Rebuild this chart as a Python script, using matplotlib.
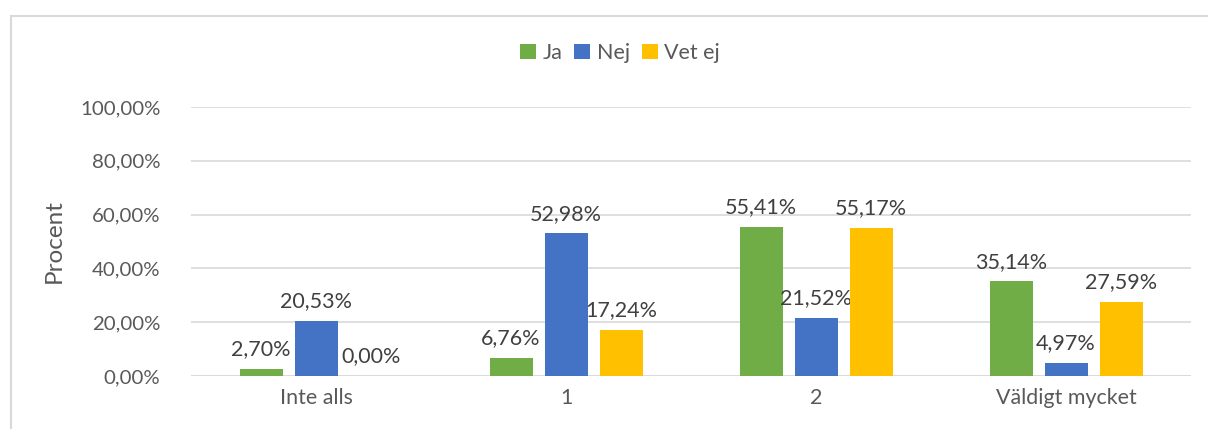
import numpy as np
import matplotlib.pyplot as plt
from matplotlib.patches import Rectangle

categories = ['Inte alls', '1', '2', 'Väldigt mycket']
ja = [2.70, 6.76, 55.41, 35.14]
nej = [20.53, 52.98, 21.52, 4.97]
vet_ej = [0.00, 17.24, 55.17, 27.59]
series_names = ['Ja', 'Nej', 'Vet ej']
colors = ['#70AD47', '#4472C4', '#FFC000']

plt.rcParams['font.family'] = ['Lato', 'DejaVu Sans']

fig = plt.figure(figsize=(12.08, 4.29), dpi=100)
ax = fig.add_axes([191 / 1208, 1 - 376 / 429, 1000 / 1208, 269 / 429])

# outer chart border (partly cut off in the reference)
fig.patches.append(Rectangle((11 / 1208, -0.1), 1.2, 1 - 16 / 429 + 0.1,
                             transform=fig.transFigure, fill=False,
                             edgecolor='#D9D9D9', linewidth=1.5))

x = np.arange(len(categories))
width = 0.172
offset = 0.22

for i, (vals, name, col) in enumerate(zip([ja, nej, vet_ej], series_names, colors)):
    pos = x + (i - 1) * offset
    bars = ax.bar(pos, vals, width, color=col, label=name, zorder=3)
    for b, v in zip(bars, vals):
        ax.annotate(f'{v:.2f}%'.replace('.', ','),
                    (b.get_x() + b.get_width() / 2, v),
                    xytext=(0, 7), textcoords='offset points',
                    ha='center', va='bottom', fontsize=15.5, color='#404040')

ax.set_xlim(-0.5, len(categories) - 0.5)
ax.set_ylim(0, 100)
ax.set_yticks(np.arange(0, 101, 20))
ax.set_yticklabels([f'{t:.2f}%'.replace('.', ',') for t in np.arange(0, 101, 20)])
ax.set_xticks(x)
ax.set_xticklabels(categories)
ax.tick_params(axis='both', length=0, colors='#595959')
ax.tick_params(axis='y', pad=22, labelsize=14.7)
ax.tick_params(axis='x', pad=9, labelsize=15.4)
ax.grid(axis='y', color='#D9D9D9', linewidth=1.2, zorder=0)
for s in ax.spines.values():
    s.set_visible(False)
ax.axhline(0, color='#D9D9D9', linewidth=1.2, zorder=2)

ax.set_ylabel('Procent', fontsize=17.5, color='#595959')
ax.yaxis.set_label_coords(-126 / 1000, 0.5)

fig.legend(loc='center', bbox_to_anchor=(620 / 1208, 1 - 53 / 429), ncol=3,
           frameon=False, fontsize=15.5, handlelength=0.75, handleheight=0.75,
           handletextpad=0.3, columnspacing=0.55, labelcolor='#595959')

fig.savefig('out.png', dpi=100)
